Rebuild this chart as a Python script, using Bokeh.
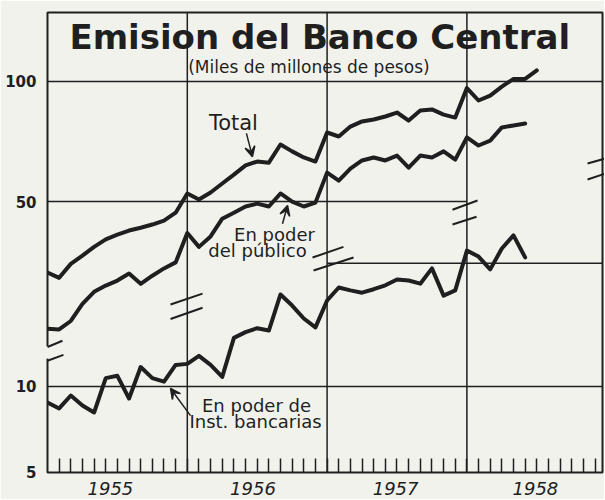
import math
from bokeh.plotting import figure
from bokeh.models import (Range1d, LogScale, FixedTicker, CustomJSTickFormatter,
                          Span, Arrow, VeeHead)
from bokeh.core.properties import value
from bokeh.embed import file_html
from bokeh.resources import INLINE

# ---------------- data (miles de millones de pesos, monthly from Jan 1955) ----
START_YEAR = 1955
YEARS = ["1955", "1956", "1957", "1958"]

TOTAL = [33.2, 32.2, 34.9, 36.6, 38.5, 40.2, 41.3, 42.3, 43.0, 43.8, 44.8, 46.9,
         52.4, 50.6, 52.7, 55.5, 58.4, 61.6, 63.0, 62.6, 69.5, 66.8, 64.5, 63.0,
         74.5, 72.8, 77.1, 79.4, 80.3, 81.7, 83.6, 79.8, 84.6, 85.1, 82.6, 81.2,
         96.3, 89.6, 92.2, 97.1, 101.5, 101.5, 106.6]

PUBLICO = [24.0, 23.9, 25.1, 27.7, 29.7, 30.8, 31.7, 33.0, 31.1, 32.6, 34.0, 35.2,
           41.7, 38.5, 40.9, 45.3, 46.9, 48.6, 49.4, 48.6, 52.4, 50.0, 48.6, 49.7,
           59.1, 56.4, 60.5, 63.4, 64.5, 63.4, 65.2, 60.8, 65.2, 64.5, 66.8, 63.7,
           72.4, 69.1, 71.1, 76.7, 77.6, 78.5]

BANCARIAS = [8.79, 8.38, 9.30, 8.58, 8.11, 10.7, 10.9, 9.08, 11.7, 10.7, 10.4, 11.9,
             12.0, 12.8, 11.9, 10.8, 14.8, 15.5, 16.0, 15.7, 21.0, 19.2, 17.3, 16.1,
             20.0, 22.2, 21.7, 21.3, 21.9, 22.6, 23.7, 23.5, 22.9, 25.9, 20.8, 21.7,
             29.9, 28.5, 25.7, 30.4, 33.8, 28.3]

# axis labels
UPPER_TICKS = [100, 50]          # upper scale (Total, público)
LOWER_TICKS = [10, 5]            # lower scale (bancarias)
YEAR_LABEL_POS = [1955.45, 1956.47, 1957.49, 1958.49]

# scales (two log scales separated by a break)
UP_RANGE = (10.47, 148.9)
LOW_RANGE = (5.0, 203.7)
X_RANGE = (1955.0, 1958.97)

# horizontal rules: value, from, to
UPPER_GRID = [100, 50]
UPPER_GRID_FROM = [1955.0, 1955.0]
UPPER_GRID_TO = [X_RANGE[1], 1958.0]
LOWER_GRID = [10, 27]
LOWER_GRID_FROM = [1955.0, 1957.0]
LOWER_GRID_TO = [X_RANGE[1], X_RANGE[1]]
YEAR_LINES = [1956, 1957, 1958]

# break marks (double slashes), in upper-scale units
BREAK_X0 = [1955.0, 1955.0, 1955.880, 1955.880, 1956.896, 1956.903, 1957.897, 1957.897, 1958.863, 1958.863]
BREAK_Y0 = [21.6, 19.95, 27.6, 25.4, 36.2, 33.6, 47.7, 43.8, 62.3, 56.8]
BREAK_X1 = [1955.107, 1955.114, 1956.109, 1956.109, 1957.117, 1957.189, 1958.076, 1958.069, 1958.99, 1958.99]
BREAK_Y1 = [22.4, 20.65, 29.4, 27.1, 38.5, 36.2, 50.3, 45.8, 64.1, 58.8]
AXIS_GAP = (20.2, 21.7)   # interrupted left axis between the slashes

INK = "#1f1f1f"
PAPER = "#f2f2ed"
FONT = "DejaVu Sans"


def months(n):
    return [START_YEAR + i / 12 for i in range(n)]


def low_to_up(v):
    t = (math.log10(v) - math.log10(LOW_RANGE[0])) / (math.log10(LOW_RANGE[1]) - math.log10(LOW_RANGE[0]))
    return 10 ** (math.log10(UP_RANGE[0]) + t * (math.log10(UP_RANGE[1]) - math.log10(UP_RANGE[0])))


p = figure(frame_width=555, frame_height=460, output_backend="svg", toolbar_location=None,
           x_range=Range1d(*X_RANGE), y_range=Range1d(*UP_RANGE), y_axis_type="log",
           min_border_left=47, min_border_right=2, min_border_top=12, min_border_bottom=27,
           background_fill_color=PAPER, border_fill_color=PAPER)
p.extra_y_ranges = {"low": Range1d(*LOW_RANGE)}
p.extra_y_scales = {"low": LogScale()}

p.xgrid.visible = False
p.ygrid.visible = False
p.outline_line_color = INK
p.outline_line_width = 2

# x axis: monthly ticks inside, year labels
xa = p.xaxis[0]
month_ticks = [START_YEAR + i / 12 for i in range(1, 48)]
xa.ticker = FixedTicker(ticks=YEAR_LABEL_POS, minor_ticks=month_ticks)
xa.formatter = CustomJSTickFormatter(args=dict(labs=YEARS, pos=YEAR_LABEL_POS), code="""
let b = 0, d = Infinity;
for (let i = 0; i < pos.length; i++) { const e = Math.abs(pos[i] - tick); if (e < d) { d = e; b = i; } }
return labs[b];
""")
xa.axis_line_color = None
xa.major_tick_line_color = None
xa.minor_tick_in = 14
xa.minor_tick_out = 0
xa.minor_tick_line_color = INK
xa.minor_tick_line_width = 1.5
xa.major_label_text_font = FONT
xa.major_label_text_font_size = "18px"
xa.major_label_text_font_style = "italic"
xa.major_label_text_color = INK
xa.major_label_standoff = 3

# y axis: two scales labelled on one axis
ya = p.yaxis[0]
ytick_vals = [float(v) for v in UPPER_TICKS] + [low_to_up(v) * 1.0005 for v in LOWER_TICKS]
ytick_labs = [str(v) for v in UPPER_TICKS] + [str(v) for v in LOWER_TICKS]
ya.ticker = FixedTicker(ticks=ytick_vals, minor_ticks=[])
ya.formatter = CustomJSTickFormatter(args=dict(vals=ytick_vals, labs=ytick_labs), code="""
let b = 0, d = Infinity;
for (let i = 0; i < vals.length; i++) { const e = Math.abs(Math.log(vals[i]) - Math.log(tick)); if (e < d) { d = e; b = i; } }
return labs[b];
""")
ya.axis_line_color = None
ya.major_tick_line_color = None
ya.minor_tick_line_color = None
ya.major_label_text_font = FONT
ya.major_label_text_font_size = "15px"
ya.major_label_text_font_style = "bold"
ya.major_label_text_color = INK
ya.major_label_standoff = 5

# rules
for yr in YEAR_LINES:
    p.add_layout(Span(location=yr, dimension="height", line_color=INK, line_width=1.5))
p.segment(x0=UPPER_GRID_FROM, x1=UPPER_GRID_TO, y0=UPPER_GRID, y1=UPPER_GRID,
          line_color=INK, line_width=1.5)
p.segment(x0=LOWER_GRID_FROM, x1=LOWER_GRID_TO, y0=LOWER_GRID, y1=LOWER_GRID,
          line_color=INK, line_width=1.5, y_range_name="low")

# gap in the left axis, then break marks
p.segment(x0=[X_RANGE[0]], x1=[X_RANGE[0]], y0=[AXIS_GAP[0]], y1=[AXIS_GAP[1]],
          line_color=PAPER, line_width=5, level="overlay")
p.segment(x0=BREAK_X0, y0=BREAK_Y0, x1=BREAK_X1, y1=BREAK_Y1, line_color=INK, line_width=2,
          level="overlay")

# series
p.line(months(len(TOTAL)), TOTAL, line_color=INK, line_width=4, line_join="round", line_cap="round")
p.line(months(len(PUBLICO)), PUBLICO, line_color=INK, line_width=4, line_join="round", line_cap="round")
p.line(months(len(BANCARIAS)), BANCARIAS, line_color=INK, line_width=4, line_join="round",
       line_cap="round", y_range_name="low")

# texts
p.text(x=[1956.99], y=[128.9], text=["Emision del Banco  Central"], text_font=value(FONT),
       text_font_size="34px", text_font_style="bold", text_color=INK,
       text_align="center", text_baseline="middle")
p.text(x=[1956.87], y=[109.0], text=["(Miles de millones de pesos)"], text_font=value(FONT),
       text_font_size="17px", text_color=INK, text_align="center", text_baseline="middle")
p.text(x=[1956.330], y=[78.5], text=["Total"], text_font=value(FONT), text_font_size="21px",
       text_color=INK, text_align="center", text_baseline="middle")
p.text(x=[1956.624, 1956.502], y=[41.3, 37.7], text=["En poder", "del público"],
       text_font=value(FONT), text_font_size="18px", text_color=INK,
       text_align="center", text_baseline="middle")
p.text(x=[1956.495, 1956.488], y=[8.58, 7.54], text=["En poder de", "Inst. bancarias"],
       text_font=value(FONT), text_font_size="18px", text_color=INK,
       text_align="center", text_baseline="middle", y_range_name="low")

# arrows
head = dict(size=10, line_color=INK, fill_color=INK, line_width=1.5)
p.add_layout(Arrow(end=VeeHead(**head), x_start=1956.423, y_start=74.1, x_end=1956.466, y_end=64.8,
                   line_color=INK, line_width=1.5))
p.add_layout(Arrow(end=VeeHead(**head), x_start=1956.681, y_start=44.0, x_end=1956.717, y_end=48.9,
                   line_color=INK, line_width=1.5))
p.add_layout(Arrow(end=VeeHead(**head), x_start=1956.023, y_start=7.91, x_end=1955.880, y_end=9.84,
                   line_color=INK, line_width=1.5, y_range_name="low"))

open("out.html", "w").write(file_html(p, INLINE))
